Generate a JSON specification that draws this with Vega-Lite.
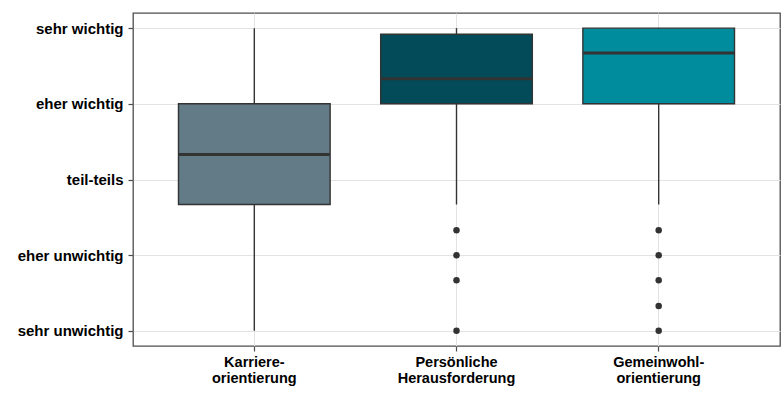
{
  "$schema": "https://vega.github.io/schema/vega-lite/v6.json",
  "autosize": "none",
  "width": 647,
  "height": 333,
  "padding": {"left": 133, "top": 13, "right": 4, "bottom": 48},
  "background": "white",
  "datasets": {
    "boxes": [
      {"kategorie": "Karriereorientierung", "unten": 1, "q1": 2.67, "median": 3.33, "q3": 4, "oben": 5},
      {"kategorie": "Persönliche Herausforderung", "unten": 2.67, "q1": 4, "median": 4.33, "q3": 4.92, "oben": 5},
      {"kategorie": "Gemeinwohlorientierung", "unten": 2.67, "q1": 4, "median": 4.67, "q3": 5, "oben": 5}
    ],
    "ausreisser": [
      {"kategorie": "Persönliche Herausforderung", "wert": 2.33},
      {"kategorie": "Persönliche Herausforderung", "wert": 2},
      {"kategorie": "Persönliche Herausforderung", "wert": 1.67},
      {"kategorie": "Persönliche Herausforderung", "wert": 1},
      {"kategorie": "Gemeinwohlorientierung", "wert": 2.33},
      {"kategorie": "Gemeinwohlorientierung", "wert": 2},
      {"kategorie": "Gemeinwohlorientierung", "wert": 1.67},
      {"kategorie": "Gemeinwohlorientierung", "wert": 1.33},
      {"kategorie": "Gemeinwohlorientierung", "wert": 1}
    ]
  },
  "config": {
    "view": {"stroke": "#4d4d4d", "strokeWidth": 1.3},
    "font": "Liberation Sans",
    "axis": {
      "grid": true,
      "gridColor": "#e3e3e3",
      "gridWidth": 1,
      "domain": false,
      "tickColor": "#4d4d4d",
      "tickSize": 5,
      "tickWidth": 1.2,
      "labelFont": "Liberation Sans",
      "labelFontWeight": "bold",
      "labelFontSize": 15,
      "labelColor": "#000000",
      "title": null
    }
  },
  "layer": [
    {
      "data": {"name": "boxes"},
      "mark": {"type": "rule", "color": "#333333", "strokeWidth": 1.4},
      "encoding": {
        "x": {
          "field": "kategorie", "type": "nominal",
          "sort": ["Karriereorientierung", "Persönliche Herausforderung", "Gemeinwohlorientierung"],
          "scale": {"paddingInner": 0, "paddingOuter": 0.1},
          "axis": {
            "labelAngle": 0,
            "bandPosition": 0.5,
            "labelPadding": 4,
            "labelFontSize": 14.5,
            "labelLineHeight": 16,
            "labelBaseline": "top",
            "labelExpr": "datum.value == 'Karriereorientierung' ? ['Karriere-', 'orientierung'] : datum.value == 'Persönliche Herausforderung' ? ['Persönliche', 'Herausforderung'] : ['Gemeinwohl-', 'orientierung']"
          }
        },
        "y": {
          "field": "unten", "type": "quantitative",
          "scale": {"domain": [0.8, 5.2], "nice": false, "zero": false},
          "axis": {
            "values": [1, 2, 3, 4, 5],
            "labelPadding": 5,
            "labelExpr": "datum.value == 5 ? 'sehr wichtig' : datum.value == 4 ? 'eher wichtig' : datum.value == 3 ? 'teil-teils' : datum.value == 2 ? 'eher unwichtig' : 'sehr unwichtig'"
          }
        },
        "y2": {"field": "oben"}
      }
    },
    {
      "data": {"name": "boxes"},
      "mark": {"type": "bar", "width": {"band": 0.75}, "stroke": "#333333", "strokeWidth": 1.4, "opacity": 1},
      "encoding": {
        "x": {"field": "kategorie", "type": "nominal", "sort": ["Karriereorientierung", "Persönliche Herausforderung", "Gemeinwohlorientierung"]},
        "y": {"field": "q1", "type": "quantitative"},
        "y2": {"field": "q3"},
        "fill": {
          "field": "kategorie", "type": "nominal", "legend": null,
          "scale": {
            "domain": ["Karriereorientierung", "Persönliche Herausforderung", "Gemeinwohlorientierung"],
            "range": ["#627b86", "#034b58", "#008c9c"]
          }
        }
      }
    },
    {
      "data": {"name": "boxes"},
      "mark": {"type": "tick", "color": "#333333", "thickness": 3, "size": 151, "opacity": 1},
      "encoding": {
        "x": {"field": "kategorie", "type": "nominal", "sort": ["Karriereorientierung", "Persönliche Herausforderung", "Gemeinwohlorientierung"]},
        "y": {"field": "median", "type": "quantitative"}
      }
    },
    {
      "data": {"name": "ausreisser"},
      "mark": {"type": "circle", "color": "#333333", "size": 42, "opacity": 1},
      "encoding": {
        "x": {"field": "kategorie", "type": "nominal", "sort": ["Karriereorientierung", "Persönliche Herausforderung", "Gemeinwohlorientierung"]},
        "y": {"field": "wert", "type": "quantitative"}
      }
    }
  ]
}
